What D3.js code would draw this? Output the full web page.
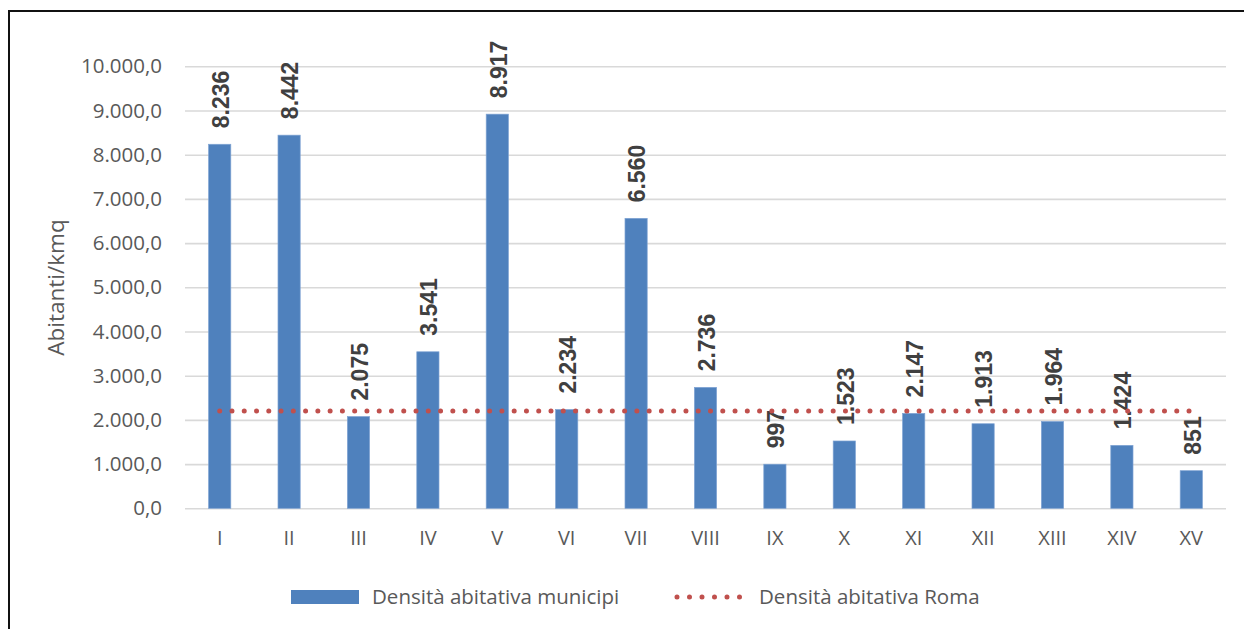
<!DOCTYPE html>
<html>
<head>
<meta charset="utf-8">
<script src="https://cdn.jsdelivr.net/npm/d3@7"></script>
<style>
  html, body { margin: 0; padding: 0; background: #ffffff; }
  svg { display: block; }
</style>
</head>
<body>
<svg id="chart" width="1244" height="629"></svg>
<script>
// Population density of Rome's municipi (inhabitants per km²)
const categories = ["I", "II", "III", "IV", "V", "VI", "VII", "VIII", "IX", "X", "XI", "XII", "XIII", "XIV", "XV"];
const densityMunicipi = [8236, 8442, 2075, 3541, 8917, 2234, 6560, 2736, 997, 1523, 2147, 1913, 1964, 1424, 851];
const densityRoma = 2200;
const yTicks = [0, 1000, 2000, 3000, 4000, 5000, 6000, 7000, 8000, 9000, 10000];
const yAxisTitle = "Abitanti/kmq";
const seriesNames = ["Densità abitativa municipi", "Densità abitativa Roma"];

const it = d3.formatLocale({ decimal: ",", thousands: ".", grouping: [3], currency: ["€", ""] });
const fmtTick = it.format(",.1f");
const fmtValue = it.format(",d");

const barColor = "#4f81bd";
const lineColor = "#c0504d";
const textColor = "#595959";
const labelFont = "'Open Sans', 'Noto Sans', sans-serif";

const svg = d3.select("#chart");

const x = d3.scaleBand()
  .domain(categories)
  .range([185, 1226])
  .paddingInner(0.68)
  .paddingOuter(0.34);

const y = d3.scaleLinear()
  .domain([0, 10000])
  .range([508.3, 66.3]);

// outer frame (top and left edges)
svg.append("path")
  .attr("d", "M9,629V11H1244")
  .attr("fill", "none")
  .attr("stroke", "#111")
  .attr("stroke-width", 2);

// horizontal gridlines + value axis labels
const yAxis = d3.axisLeft(y)
  .tickValues(yTicks)
  .tickFormat(fmtTick)
  .tickSize(-(1226 - 185))
  .tickPadding(23);

const gy = svg.append("g")
  .attr("transform", "translate(185,0)")
  .call(yAxis);
gy.select(".domain").remove();
gy.selectAll(".tick line")
  .attr("stroke", "#d9d9d9")
  .attr("stroke-width", 1.6);
gy.selectAll(".tick text")
  .attr("fill", textColor)
  .style("font-family", labelFont)
  .style("font-size", "20.5px");

// category axis labels
const xAxis = d3.axisBottom(x).tickSize(0).tickPadding(23);
const gx = svg.append("g")
  .attr("transform", "translate(0," + y(0) + ")")
  .call(xAxis);
gx.select(".domain").remove();
gx.selectAll(".tick text")
  .attr("fill", textColor)
  .style("font-family", labelFont)
  .style("font-size", "20px");

// axis title
svg.append("text")
  .attr("transform", "translate(56,287.5) rotate(-90)")
  .attr("text-anchor", "middle")
  .attr("dy", "0.35em")
  .attr("fill", textColor)
  .style("font-family", labelFont)
  .style("font-size", "22.5px")
  .text(yAxisTitle);

// bars
svg.append("g")
  .selectAll("rect")
  .data(densityMunicipi)
  .join("rect")
  .attr("x", (d, i) => x(categories[i]))
  .attr("width", x.bandwidth())
  .attr("y", d => y(d))
  .attr("height", d => y(0) - y(d))
  .attr("fill", barColor)
  .attr("stroke", "#7fa3d3")
  .attr("stroke-width", 0.7);

// value labels
svg.append("g")
  .selectAll("text")
  .data(densityMunicipi)
  .join("text")
  .attr("transform", (d, i) =>
    "translate(" + (x(categories[i]) + x.bandwidth() / 2 + 1) + "," + (y(d) - 16) + ") rotate(-90)")
  .attr("text-anchor", "start")
  .attr("dy", "0.36em")
  .attr("fill", "#404040")
  .style("font-family", "'Liberation Sans', Arial, sans-serif")
  .style("font-weight", "bold")
  .style("font-size", "23px")
  .text(d => fmtValue(d));

// city-wide density line (dotted)
const lineData = categories.map(c => ({ c, v: densityRoma }));
const line = d3.line()
  .x(d => x(d.c) + x.bandwidth() / 2)
  .y(d => y(d.v));
svg.append("path")
  .datum(lineData)
  .attr("d", line)
  .attr("fill", "none")
  .attr("stroke", lineColor)
  .attr("stroke-width", 5)
  .attr("stroke-linecap", "round")
  .attr("stroke-dasharray", "0 12.27");

// legend
const legend = svg.append("g");
legend.append("rect")
  .attr("x", 291).attr("y", 590)
  .attr("width", 68).attr("height", 14)
  .attr("fill", barColor);
legend.append("text")
  .attr("x", 372).attr("y", 597)
  .attr("dy", "0.35em")
  .attr("fill", textColor)
  .style("font-family", labelFont)
  .style("font-size", "20.5px")
  .text(seriesNames[0]);
legend.append("line")
  .attr("x1", 677).attr("x2", 740)
  .attr("y1", 597).attr("y2", 597)
  .attr("stroke", lineColor)
  .attr("stroke-width", 5)
  .attr("stroke-linecap", "round")
  .attr("stroke-dasharray", "0 12.5");
legend.append("text")
  .attr("x", 759).attr("y", 597)
  .attr("dy", "0.35em")
  .attr("fill", textColor)
  .style("font-family", labelFont)
  .style("font-size", "20.5px")
  .text(seriesNames[1]);
</script>
</body>
</html>
